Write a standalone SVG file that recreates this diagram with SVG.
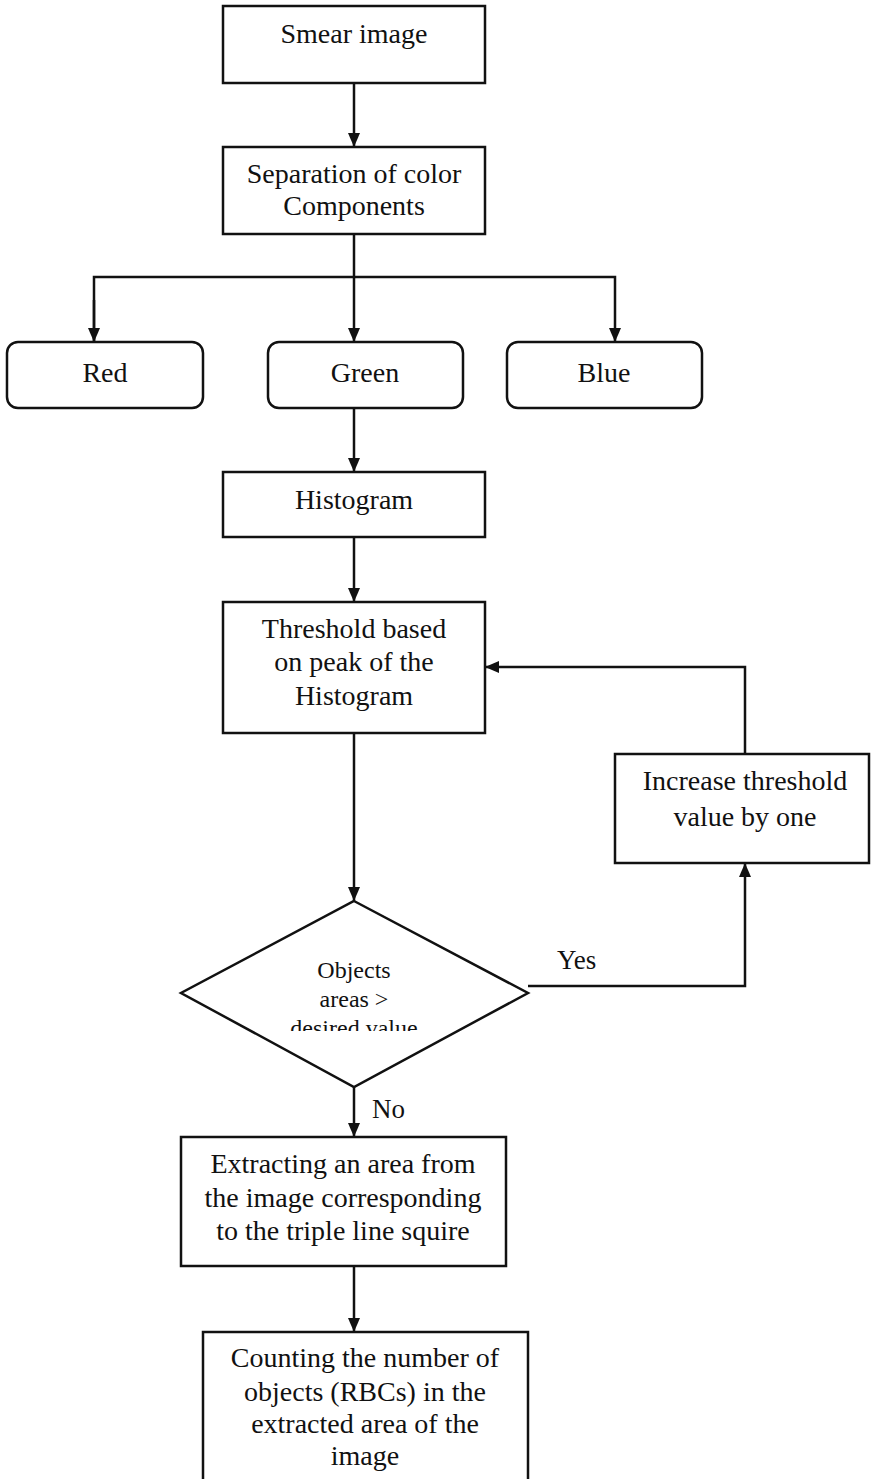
<svg xmlns="http://www.w3.org/2000/svg" width="871" height="1479" viewBox="0 0 871 1479">
<style>
.b{fill:#fff;stroke:#111;stroke-width:2.5}
.c{fill:none;stroke:#111;stroke-width:2.5}
text{font-family:"Liberation Serif","Times New Roman",serif;font-size:28px;fill:#111;text-anchor:middle}
.s{font-size:24px}
.y{font-size:27px;text-anchor:start}
</style>
<defs>
<marker id="a" viewBox="0 0 14 12" refX="14" refY="6" markerWidth="14" markerHeight="12" markerUnits="userSpaceOnUse" orient="auto">
<path d="M0,0 L14,6 L0,12 Z" fill="#111"/>
</marker>
<clipPath id="dc"><rect x="0" y="0" width="871" height="1031"/></clipPath>
</defs>
<rect width="871" height="1479" fill="#fff"/>
<g id="connectors">
<line class="c" x1="354" y1="83" x2="354" y2="147" marker-end="url(#a)"/>
<line class="c" x1="354" y1="234" x2="354" y2="342" marker-end="url(#a)"/>
<polyline class="c" points="94,342 94,277 615,277 615,342" marker-end="url(#a)"/>
<line class="c" x1="94" y1="300" x2="94" y2="342" marker-end="url(#a)"/>
<line class="c" x1="354" y1="407" x2="354" y2="472" marker-end="url(#a)"/>
<line class="c" x1="354" y1="537" x2="354" y2="602" marker-end="url(#a)"/>
<line class="c" x1="354" y1="733" x2="354" y2="901" marker-end="url(#a)"/>
<polyline class="c" points="528,986 745,986 745,863" marker-end="url(#a)"/>
<polyline class="c" points="745,754 745,667 485,667" marker-end="url(#a)"/>
<line class="c" x1="354" y1="1087" x2="354" y2="1137" marker-end="url(#a)"/>
<line class="c" x1="354" y1="1266" x2="354" y2="1332" marker-end="url(#a)"/>
<text class="y" x="557" y="969">Yes</text>
<text class="y" x="372" y="1118">No</text>
</g>
<g id="smear">
<rect class="b" x="223" y="6" width="262" height="77"/>
<text x="354" y="43">Smear image</text>
</g>
<g id="separation">
<rect class="b" x="223" y="147" width="262" height="87"/>
<text x="354" y="183">Separation of color</text>
<text x="354" y="215">Components</text>
</g>
<g id="red">
<rect class="b" x="7" y="342" width="196" height="66" rx="11"/>
<text x="105" y="382">Red</text>
</g>
<g id="green">
<rect class="b" x="268" y="342" width="195" height="66" rx="11"/>
<text x="365" y="382">Green</text>
</g>
<g id="blue">
<rect class="b" x="507" y="342" width="195" height="66" rx="11"/>
<text x="604" y="382">Blue</text>
</g>
<g id="histogram">
<rect class="b" x="223" y="472" width="262" height="65"/>
<text x="354" y="509">Histogram</text>
</g>
<g id="threshold">
<rect class="b" x="223" y="602" width="262" height="131"/>
<text x="354" y="638">Threshold based</text>
<text x="354" y="671">on peak of the</text>
<text x="354" y="705">Histogram</text>
</g>
<g id="increase">
<rect class="b" x="615" y="754" width="254" height="109"/>
<text x="745" y="790">Increase threshold</text>
<text x="745" y="826">value by one</text>
</g>
<g id="decision">
<polygon class="b" points="354,901 528,993 354,1087 181,993"/>
<text class="s" x="354" y="978">Objects</text>
<text class="s" x="354" y="1007">areas &gt;</text>
<text class="s" x="354" y="1036" clip-path="url(#dc)">desired value</text>
</g>
<g id="extract">
<rect class="b" x="181" y="1137" width="325" height="129"/>
<text x="343" y="1173">Extracting an area from</text>
<text x="343" y="1207">the image corresponding</text>
<text x="343" y="1240">to the triple line squire</text>
</g>
<g id="counting">
<rect class="b" x="203" y="1332" width="325" height="160"/>
<text x="365" y="1367">Counting the number of</text>
<text x="365" y="1401">objects (RBCs) in the</text>
<text x="365" y="1433">extracted area of the</text>
<text x="365" y="1465">image</text>
</g>
</svg>
